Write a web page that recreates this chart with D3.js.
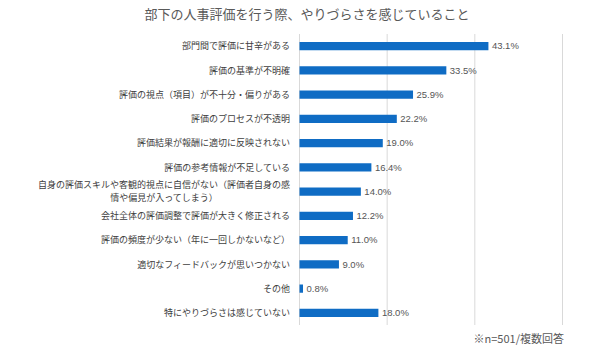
<!DOCTYPE html>
<html><head><meta charset="utf-8">
<script src="https://cdn.jsdelivr.net/npm/d3@7"></script>
<style>body{margin:0;background:#fff;}svg{display:block;font-family:"Noto Sans CJK JP","Noto Sans",sans-serif;}</style>
</head><body>
<script>
const title = "部下の人事評価を行う際、やりづらさを感じていること";
const categories = [
  ["部門間で評価に甘辛がある"],
  ["評価の基準が不明確"],
  ["評価の視点（項目）が不十分・偏りがある"],
  ["評価のプロセスが不透明"],
  ["評価結果が報酬に適切に反映されない"],
  ["評価の参考情報が不足している"],
  ["自身の評価スキルや客観的視点に自信がない（評価者自身の感", "情や偏見が入ってしまう）"],
  ["会社全体の評価調整で評価が大きく修正される"],
  ["評価の頻度が少ない（年に一回しかないなど）"],
  ["適切なフィードバックが思いつかない"],
  ["その他"],
  ["特にやりづらさは感じていない"]
];
const values = [43.1, 33.5, 25.9, 22.2, 19.0, 16.4, 14.0, 12.2, 11.0, 9.0, 0.8, 18.0];
const gridTicks = [0, 20, 40, 60];
const footnote = "※n=501/複数回答";

const W = 600, H = 349;
const svg = d3.select("body").append("svg").attr("width", W).attr("height", H);
const x = d3.scaleLinear().domain([0, 60]).range([299.5, 562.5]);
const y = d3.scaleBand().domain(d3.range(categories.length)).range([34, 325]).paddingInner(0.66).paddingOuter(0.33);

svg.append("text").attr("x", 307).attr("y", 19).attr("text-anchor", "middle")
  .attr("font-size", 13).attr("fill", "#595959").text(title);

svg.append("g").selectAll("line").data(gridTicks).join("line")
  .attr("x1", d => x(d)).attr("x2", d => x(d)).attr("y1", 34).attr("y2", 325)
  .attr("stroke", "#d9d9d9").attr("stroke-width", 1);

svg.append("g").selectAll("rect").data(values).join("rect")
  .attr("x", x(0)).attr("y", (d, i) => y(i)).attr("height", y.bandwidth())
  .attr("width", d => x(d) - x(0)).attr("fill", "#0f6cc4");

svg.append("g").selectAll("text").data(values).join("text")
  .attr("x", d => x(d) + 3.5).attr("y", (d, i) => y(i) + y.bandwidth() / 2)
  .attr("dy", "0.35em").attr("font-size", 9.5).attr("fill", "#555555")
  .attr("font-family", "Liberation Sans, Arial, sans-serif")
  .text(d => d.toFixed(1) + "%");

const lg = svg.append("g");
categories.forEach((lines, i) => {
  const cy = y(i) + y.bandwidth() / 2;
  const t = lg.append("text").attr("font-size", 9).attr("fill", "#404040");
  if (lines.length === 1) {
    t.attr("x", 290).attr("y", cy).attr("dy", "0.35em").attr("text-anchor", "end").text(lines[0]);
  } else {
    const s1 = t.append("tspan").attr("x", 290).attr("y", cy - 6.6).attr("dy", "0.35em")
      .attr("text-anchor", "end").text(lines[0]);
    const w1 = s1.node().getComputedTextLength();
    t.append("tspan").attr("x", 290 - w1 / 2).attr("y", cy + 6.6).attr("dy", "0.35em")
      .attr("text-anchor", "middle").text(lines[1]);
  }
});

svg.append("text").attr("x", 564).attr("y", 339).attr("dy", "0.35em").attr("text-anchor", "end")
  .attr("font-size", 11).attr("fill", "#595959").text(footnote);
</script>
</body></html>
